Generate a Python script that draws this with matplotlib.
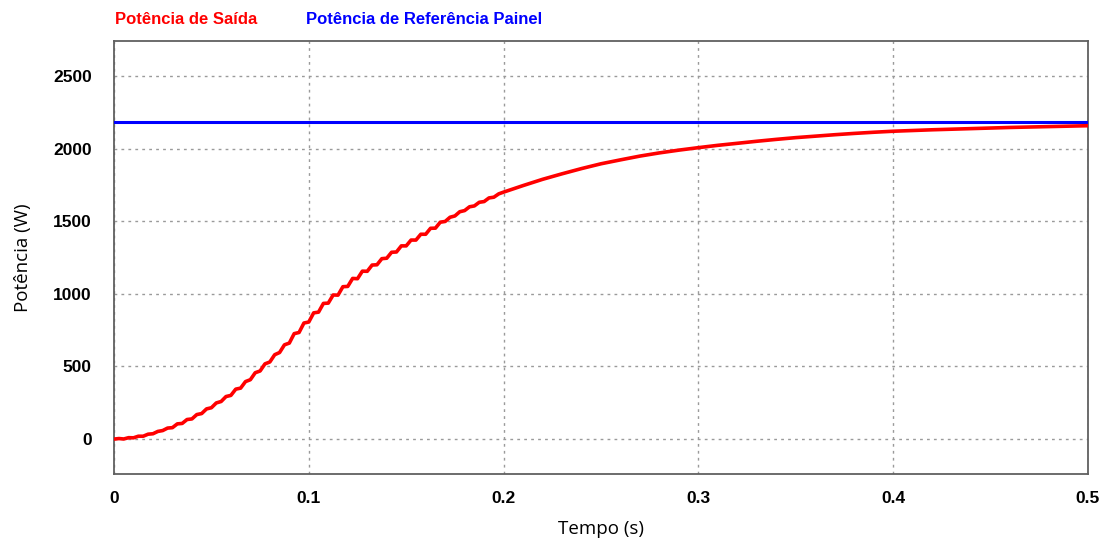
import numpy as np
import matplotlib
matplotlib.use("Agg")
import matplotlib.pyplot as plt

t_ripple = np.arange(0, 81) * 0.0025
p_ripple = [0, 4, 1, 10, 9, 20, 20, 34, 37, 53,
            59, 76, 79, 105, 108, 135, 139, 169, 176, 208,
            216, 249, 259, 293, 301, 344, 351, 396, 409, 457,
            469, 518, 531, 581, 596, 649, 661, 726, 734, 799,
            806, 869, 874, 934, 936, 992, 991, 1049, 1051, 1106,
            1104, 1156, 1155, 1198, 1200, 1242, 1245, 1286, 1288, 1330,
            1330, 1370, 1370, 1410, 1410, 1451, 1452, 1493, 1498, 1527,
            1536, 1565, 1573, 1599, 1605, 1630, 1635, 1660, 1665, 1688,
            1700]

# slow settling part, every 10 ms
t_tail = [0.21, 0.22, 0.23, 0.24, 0.25, 0.26, 0.27, 0.28, 0.29, 0.30,
          0.31, 0.32, 0.33, 0.34, 0.35, 0.36, 0.37, 0.38, 0.39, 0.40,
          0.41, 0.42, 0.43, 0.44, 0.45, 0.46, 0.47, 0.48, 0.49, 0.50]
p_tail = [1745, 1788, 1826, 1862, 1895, 1922, 1948, 1970, 1989, 2006,
          2022, 2036, 2050, 2063, 2075, 2085, 2095, 2104, 2112, 2119,
          2124, 2129, 2133, 2137, 2141, 2145, 2148, 2151, 2154, 2157]

t_ref = [0.0, 0.5]
p_ref = [2185, 2185]

x_ticks = [0, 0.1, 0.2, 0.3, 0.4, 0.5]
x_labels = ["0", "0.1", "0.2", "0.3", "0.4", "0.5"]
y_ticks = [0, 500, 1000, 1500, 2000, 2500]

t_out = np.concatenate([t_ripple, t_tail])
p_out = np.concatenate([p_ripple, p_tail])

fig = plt.figure(figsize=(11.02, 5.42), dpi=100)
ax = fig.add_axes([114 / 1102, 1 - 474 / 542, (1088 - 114) / 1102, (474 - 41) / 542])

ax.plot(t_ref, p_ref, color="#0000ff", lw=2.2, zorder=3)
ax.plot(t_out, p_out, color="#ff0000", lw=2.6, zorder=4)

ax.set_xlim(0, 0.5)
ax.set_ylim(-240, 2740)
ax.set_xticks(x_ticks)
ax.set_xticklabels(x_labels)
ax.set_yticks(y_ticks)
ax.grid(True, color="#9a9a9a", linestyle=(0, (2, 3)), linewidth=1.0)
ax.tick_params(length=0)
ax.tick_params(axis="y", pad=16)
ax.tick_params(axis="x", pad=12)
for lab in ax.get_xticklabels() + ax.get_yticklabels():
    lab.set_fontfamily(["Liberation Sans", "DejaVu Sans"])
    lab.set_fontweight("bold")
    lab.set_fontsize(12.5)
for s in ax.spines.values():
    s.set_color("#606060")
    s.set_linewidth(1.3)

ax.set_xlabel("Tempo (s)", family=["Open Sans", "DejaVu Sans"], fontsize=13.5, labelpad=10)
ax.set_ylabel("Potência (W)", family=["Open Sans", "DejaVu Sans"], fontsize=13.5, labelpad=15)

fig.text(115 / 1102, 1 - 19 / 542, "Potência de Saída", color="#ff0000", fontsize=12,
         fontweight="bold", family=["Liberation Sans", "DejaVu Sans"], va="center")
fig.text(306 / 1102, 1 - 19 / 542, "Potência de Referência Painel", color="#0000ff", fontsize=12,
         fontweight="bold", family=["Liberation Sans", "DejaVu Sans"], va="center")

fig.savefig("out.png", dpi=100)
